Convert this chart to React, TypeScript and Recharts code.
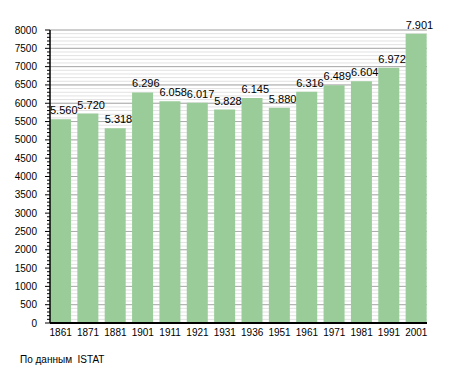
import React from 'react';
import { Bar, BarChart, CartesianGrid, LabelList, XAxis, YAxis } from 'recharts';

const years = ['1861', '1871', '1881', '1901', '1911', '1921', '1931', '1936', '1951', '1961', '1971', '1981', '1991', '2001'];
const population = [5560, 5720, 5318, 6296, 6058, 6017, 5828, 6145, 5880, 6316, 6489, 6604, 6972, 7901];
const majorTicks = [0, 500, 1000, 1500, 2000, 2500, 3000, 3500, 4000, 4500, 5000, 5500, 6000, 6500, 7000, 7500, 8000];
const minorTicks = [
  0, 100, 200, 300, 400, 500, 600, 700, 800, 900, 1000, 1100, 1200, 1300, 1400, 1500, 1600, 1700, 1800, 1900,
  2000, 2100, 2200, 2300, 2400, 2500, 2600, 2700, 2800, 2900, 3000, 3100, 3200, 3300, 3400, 3500, 3600, 3700,
  3800, 3900, 4000, 4100, 4200, 4300, 4400, 4500, 4600, 4700, 4800, 4900, 5000, 5100, 5200, 5300, 5400, 5500,
  5600, 5700, 5800, 5900, 6000, 6100, 6200, 6300, 6400, 6500, 6600, 6700, 6800, 6900, 7000, 7100, 7200, 7300,
  7400, 7500, 7600, 7700, 7800, 7900, 8000,
];
const sourceNote = 'По данным  ISTAT';

const data = years.map((year, i) => ({ year, value: population[i] }));

const font = '"Liberation Sans", Arial, sans-serif';

const formatThousands = (v: number) => String(v).replace(/\B(?=(\d{3})+(?!\d))/g, '.');

const YTick = (props: any) => {
  const { x, y, payload } = props;
  const major = payload.value % 500 === 0;
  return (
    <g>
      <line x1={x - (major ? 5 : 3)} x2={x} y1={y} y2={y} stroke="#000" strokeWidth={1} />
      {major && (
        <text x={x - 13} y={y} dy="0.35em" textAnchor="end" fontSize={10} fill="#000" fontFamily={font}>
          {payload.value}
        </text>
      )}
    </g>
  );
};

const ValueLabel = (props: any) => {
  const { x, y, value } = props;
  return (
    <text x={x} y={y - 5} textAnchor="start" fontSize={11} fill="#000" fontFamily={font}>
      {formatThousands(value)}
    </text>
  );
};

export default function App() {
  return (
    <div style={{ position: 'absolute', left: 0, top: 0, width: 455, height: 373, background: '#fff' }}>
      <BarChart
        width={455}
        height={373}
        data={data}
        margin={{ top: 30, right: 28, left: 0, bottom: 20 }}
        barCategoryGap={3}
      >
        <CartesianGrid vertical={false} horizontalValues={minorTicks} stroke="#e2e2e2" strokeWidth={1} />
        <CartesianGrid vertical={false} horizontalValues={majorTicks} stroke="#aaaaaa" strokeWidth={1} />
        <XAxis
          dataKey="year"
          height={30}
          padding={{ left: -3, right: -3 }}
          tickLine={false}
          tickSize={0}
          tickMargin={6}
          axisLine={{ stroke: '#000', strokeWidth: 2 }}
          tick={{ fontSize: 10, fill: '#000', fontFamily: font }}
          interval={0}
        />
        <YAxis
          width={50}
          domain={[0, 8000]}
          ticks={minorTicks}
          interval={0}
          tickLine={false}
          tickSize={0}
          tickMargin={0}
          axisLine={{ stroke: '#000', strokeWidth: 1.5 }}
          tick={<YTick />}
        />
        <Bar dataKey="value" fill="#99cc99" isAnimationActive={false}>
          <LabelList dataKey="value" content={<ValueLabel />} />
        </Bar>
      </BarChart>
      <div
        style={{
          position: 'absolute',
          left: 20,
          top: 354,
          fontFamily: font,
          fontSize: 10,
          color: '#000',
          whiteSpace: 'pre',
        }}
      >
        {sourceNote}
      </div>
    </div>
  );
}
